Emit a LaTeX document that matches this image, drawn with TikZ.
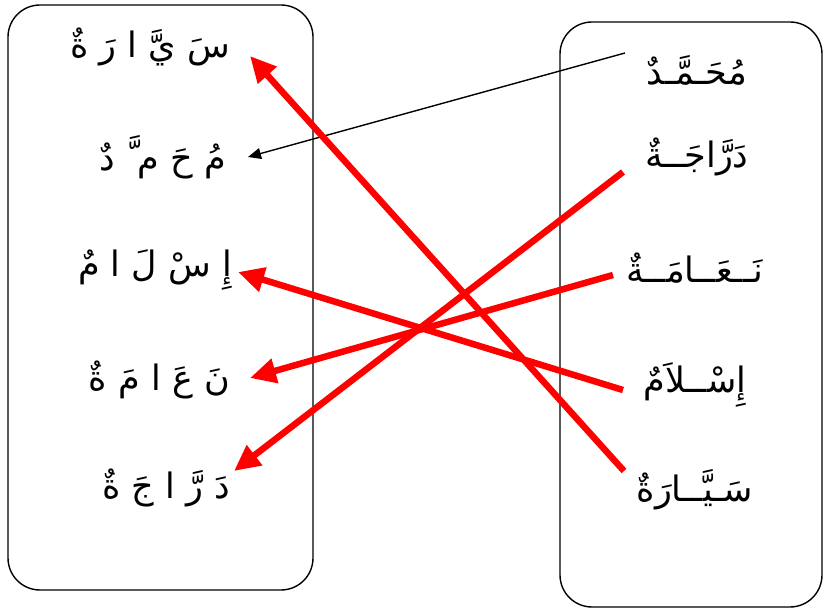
\documentclass[tikz,border=0pt]{standalone}
\usepackage{fontspec}
\newfontfamily\arabicfont[Script=Arabic]{DejaVu Sans}
\TeXXeTstate=1
\usetikzlibrary{arrows.meta}
\begin{document}
\begin{tikzpicture}[x=1pt,y=-1pt,
  box/.style={draw=black,line width=1.4pt,rounded corners=32pt},
  word/.style={inner sep=0pt,font=\arabicfont\fontsize{35}{40}\selectfont},
  redlink/.style={draw=red,line width=6.5pt,-{Triangle[length=26pt,width=24pt]}},
  blacklink/.style={draw=black,line width=1.4pt,-{Triangle[length=13pt,width=11pt]}}]
\useasboundingbox (0,0) rectangle (823,612);
\draw[box] (8,5) rectangle (313,590);
\draw[box] (560,22) rectangle (822,607);
% left column
\node[word,anchor=east] (l1) at (230,47) {\beginR سَ يَّ ا رَ ةٌ\endR};
\node[word,anchor=east] (l2) at (226,157) {\beginR مُ حَ م َّ دٌ\endR};
\node[word,anchor=east] (l3) at (232,270) {\beginR إِ سْ لَ ا مٌ\endR};
\node[word,anchor=east] (l4) at (230,380) {\beginR نَ عَ ا مَ ةٌ\endR};
\node[word,anchor=east] (l5) at (230,488) {\beginR دَ رَّ ا جَ ةٌ\endR};
% right column
\node[word] (r1) at (697,70) {\beginR مُحَـمَّـدٌ\endR};
\node[word] (r2) at (697,157) {\beginR دَرَّاجَــةٌ\endR};
\node[word] (r3) at (695,268) {\beginR نَــعَــامَــةٌ\endR};
\node[word] (r4) at (695,385) {\beginR إِسْــلاَمٌ\endR};
\node[word] (r5) at (695,490) {\beginR سَـيَّــارَةٌ\endR};
% connector end points
\coordinate (a1) at (625,53);   \coordinate (b1) at (248,157);
\coordinate (a2) at (624,471);  \coordinate (b2) at (250,56);
\coordinate (a3) at (623,172);  \coordinate (b3) at (234,471);
\coordinate (a4) at (613,275);  \coordinate (b4) at (250,378);
\coordinate (a5) at (623,390);  \coordinate (b5) at (238,272);
\draw[blacklink] (a1) -- (b1);
\draw[redlink] (a2) -- (b2);
\draw[redlink] (a3) -- (b3);
\draw[redlink] (a4) -- (b4);
\draw[redlink] (a5) -- (b5);
\end{tikzpicture}
\end{document}
